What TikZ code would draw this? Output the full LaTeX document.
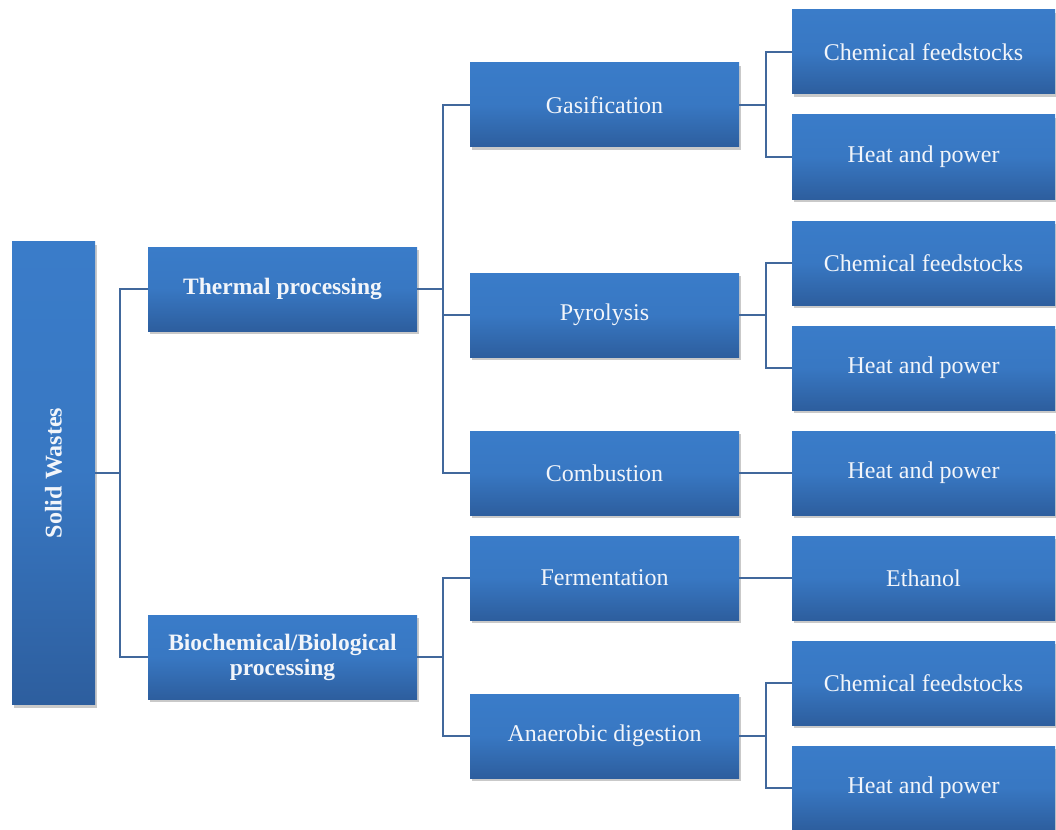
\documentclass[tikz,border=0pt]{standalone}
\usepackage{fontspec}
\setmainfont{Liberation Serif}
\usetikzlibrary{shadows}
\definecolor{boxtop}{HTML}{3A7CC9}
\definecolor{boxbot}{HTML}{2D5E9E}
\definecolor{linec}{HTML}{41689C}
\definecolor{txt}{HTML}{F2F5FA}
\tikzset{
  blk/.style={rectangle, inner sep=0pt, align=center, text=txt,
    top color=boxtop, bottom color=boxbot, middle color=boxtop!85!boxbot,
    font=\fontsize{24}{25.5}\selectfont,
    drop shadow={shadow xshift=2pt, shadow yshift=-3pt, opacity=0.3, fill=black!70}},
  l1/.style={blk, minimum width=269pt, minimum height=84pt, font=\fontsize{23.5}{25}\selectfont\bfseries},
  l2/.style={blk, minimum width=269pt, minimum height=84pt},
  l3/.style={blk, minimum width=263pt, minimum height=84pt},
  conn/.style={draw=linec, line width=1.8pt}
}
\begin{document}
\begin{tikzpicture}[x=1pt, y=-1pt]
\useasboundingbox (0,0) rectangle (1056,829);
% root
\node[blk, minimum width=83pt, minimum height=463pt] (sw) at (53.5,473) {};
\node[text=txt, rotate=90, font=\fontsize{24}{26}\selectfont\bfseries] (swt) at (sw.center) {Solid Wastes};
% level 1
\node[l1] (tp) at (282.5,289) {Thermal processing};
\node[l1] (bp) at (282.5,657) {Biochemical/Biological\\processing};
% level 2
\node[l2] (gas) at (604.5,105) {Gasification};
\node[l2] (pyr) at (604.5,315) {Pyrolysis};
\node[l2] (com) at (604.5,473) {Combustion};
\node[l2] (fer) at (604.5,578) {Fermentation};
\node[l2] (ana) at (604.5,736) {Anaerobic digestion};
% level 3
\node[l3] (c1) at (923.5,52) {Chemical feedstocks};
\node[l3] (h1) at (923.5,157) {Heat and power};
\node[l3] (c2) at (923.5,263) {Chemical feedstocks};
\node[l3] (h2) at (923.5,368) {Heat and power};
\node[l3] (h3) at (923.5,473) {Heat and power};
\node[l3] (eth) at (923.5,578) {Ethanol};
\node[l3] (c3) at (923.5,683) {Chemical feedstocks};
\node[l3] (h4) at (923.5,788) {Heat and power};
% buses
\coordinate (b1) at (120,0);
\coordinate (b2) at (443,0);
\coordinate (b3) at (766,0);
% connectors
\draw[conn] (sw.east) -- (sw.east -| b1);
\draw[conn] (tp.west) -- (tp.west -| b1) |- (bp.west);
\draw[conn] (tp.east) -- (tp.east -| b2);
\draw[conn] (gas.west) -- (gas.west -| b2) |- (com.west);
\draw[conn] (pyr.west) -- (pyr.west -| b2);
\draw[conn] (bp.east) -- (bp.east -| b2);
\draw[conn] (fer.west) -- (fer.west -| b2) |- (ana.west);
\draw[conn] (gas.east) -- (gas.east -| b3);
\draw[conn] (c1.west) -- (c1.west -| b3) |- (h1.west);
\draw[conn] (pyr.east) -- (pyr.east -| b3);
\draw[conn] (c2.west) -- (c2.west -| b3) |- (h2.west);
\draw[conn] (com.east) -- (h3.west);
\draw[conn] (fer.east) -- (eth.west);
\draw[conn] (ana.east) -- (ana.east -| b3);
\draw[conn] (c3.west) -- (c3.west -| b3) |- (h4.west);
\end{tikzpicture}
\end{document}
